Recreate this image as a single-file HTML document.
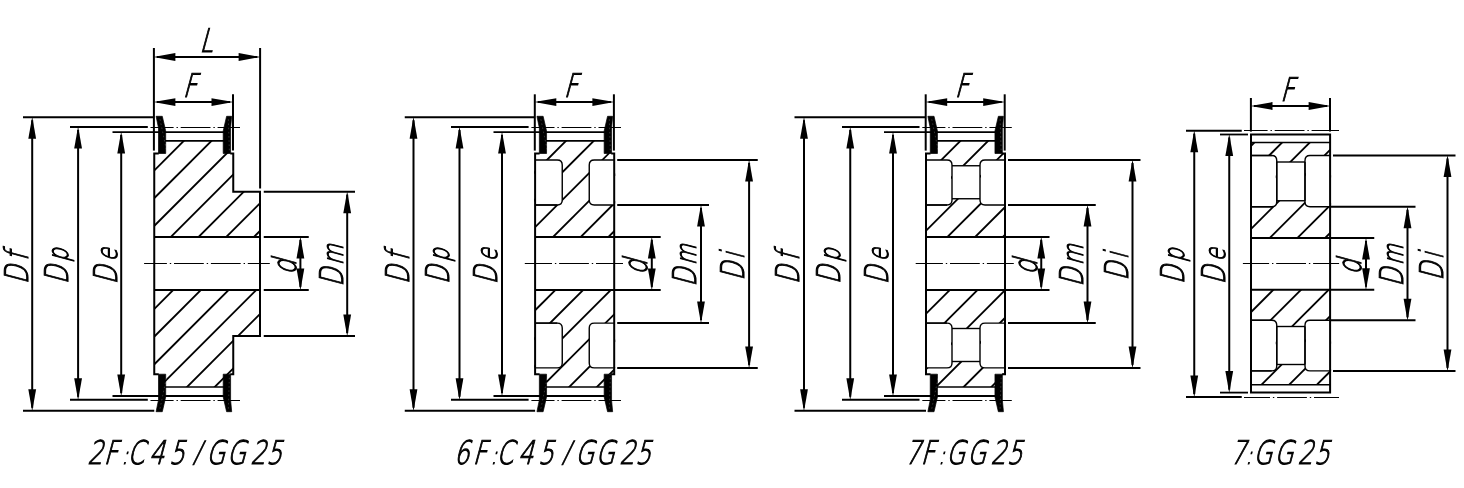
<!DOCTYPE html>
<html lang="en"><head><meta charset="utf-8"><title>Pulley types</title>
<style>
html,body{margin:0;padding:0;background:#fff}
body{width:1464px;height:488px;overflow:hidden}
svg{display:block;filter:grayscale(1)}
.a{fill:#000;stroke:#000}
polygon.a{stroke:none}
.t{font-family:"DejaVu Sans Light","DejaVu Sans","Liberation Sans",sans-serif;font-weight:200;fill:#000;stroke:#000;stroke-width:1.1px}
</style></head><body>
<svg width="1464" height="488" viewBox="0 0 1464 488" stroke="#000" fill="none">
<defs><clipPath id="c1"><path d="M154.25,153.5 L159.25,153.5 L159.25,140.85 L228.25,140.85 L228.25,153.5 L233.25,153.5 L233.25,191.65 L260.0,191.65 L260.0,236.9 L154.25,236.9 Z M154.25,374.2 L159.25,374.2 L159.25,387.0 L228.25,387.0 L228.25,374.2 L233.25,374.2 L233.25,336.0 L260.0,336.0 L260.0,289.9 L154.25,289.9 Z " clip-rule="evenodd"/></clipPath><clipPath id="c2"><path d="M535.1,153.5 L540.1,153.5 L540.1,140.85 L609.2,140.85 L609.2,153.5 L614.2,153.5 L614.2,236.9 L535.1,236.9 Z M534.10,160.00 L557.25,160.00 Q562.25,160.00 562.25,165.00 L562.25,200.00 Q562.25,205.00 557.25,205.00 L534.10,205.00 Q534.10,205.00 534.10,205.00 L534.10,160.00 Q534.10,160.00 534.10,160.00 Z M594.25,160.00 L615.20,160.00 Q615.20,160.00 615.20,160.00 L615.20,205.00 Q615.20,205.00 615.20,205.00 L594.25,205.00 Q589.25,205.00 589.25,200.00 L589.25,165.00 Q589.25,160.00 594.25,160.00 Z M535.1,374.2 L540.1,374.2 L540.1,387.0 L609.2,387.0 L609.2,374.2 L614.2,374.2 L614.2,289.9 L535.1,289.9 Z M534.10,323.10 L557.25,323.10 Q562.25,323.10 562.25,328.10 L562.25,362.90 Q562.25,367.90 557.25,367.90 L534.10,367.90 Q534.10,367.90 534.10,367.90 L534.10,323.10 Q534.10,323.10 534.10,323.10 Z M594.25,323.10 L615.20,323.10 Q615.20,323.10 615.20,323.10 L615.20,367.90 Q615.20,367.90 615.20,367.90 L594.25,367.90 Q589.25,367.90 589.25,362.90 L589.25,328.10 Q589.25,323.10 594.25,323.10 Z " clip-rule="evenodd"/></clipPath><clipPath id="c3"><path d="M926.0,153.5 L931.0,153.5 L931.0,140.85 L1000.0,140.85 L1000.0,153.5 L1005.0,153.5 L1005.0,236.9 L926.0,236.9 Z M925.00,160.00 L947.00,160.00 Q952.00,160.00 952.00,165.00 L952.00,200.00 Q952.00,205.00 947.00,205.00 L925.00,205.00 Q925.00,205.00 925.00,205.00 L925.00,160.00 Q925.00,160.00 925.00,160.00 Z M985.00,160.00 L1006.00,160.00 Q1006.00,160.00 1006.00,160.00 L1006.00,205.00 Q1006.00,205.00 1006.00,205.00 L985.00,205.00 Q980.00,205.00 980.00,200.00 L980.00,165.00 Q980.00,160.00 985.00,160.00 Z M951.0,165.75 L981.0,165.75 L981.0,198.75 L951.0,198.75 Z M926.0,374.2 L931.0,374.2 L931.0,387.0 L1000.0,387.0 L1000.0,374.2 L1005.0,374.2 L1005.0,289.9 L926.0,289.9 Z M925.00,323.10 L947.00,323.10 Q952.00,323.10 952.00,328.10 L952.00,362.90 Q952.00,367.90 947.00,367.90 L925.00,367.90 Q925.00,367.90 925.00,367.90 L925.00,323.10 Q925.00,323.10 925.00,323.10 Z M985.00,323.10 L1006.00,323.10 Q1006.00,323.10 1006.00,323.10 L1006.00,367.90 Q1006.00,367.90 1006.00,367.90 L985.00,367.90 Q980.00,367.90 980.00,362.90 L980.00,328.10 Q980.00,323.10 985.00,323.10 Z M951.0,328.5 L981.0,328.5 L981.0,361.5 L951.0,361.5 Z " clip-rule="evenodd"/></clipPath><clipPath id="c4"><path d="M1251.0,142.5 L1330.1,142.5 L1330.1,238.0 L1251.0,238.0 Z M1250.00,155.50 L1271.75,155.50 Q1276.75,155.50 1276.75,160.50 L1276.75,201.80 Q1276.75,206.80 1271.75,206.80 L1250.00,206.80 Q1250.00,206.80 1250.00,206.80 L1250.00,155.50 Q1250.00,155.50 1250.00,155.50 Z M1310.00,155.50 L1331.10,155.50 Q1331.10,155.50 1331.10,155.50 L1331.10,206.80 Q1331.10,206.80 1331.10,206.80 L1310.00,206.80 Q1305.00,206.80 1305.00,201.80 L1305.00,160.50 Q1305.00,155.50 1310.00,155.50 Z M1275.75,162.0 L1306.0,162.0 L1306.0,200.75 L1275.75,200.75 Z M1251.0,384.75 L1330.1,384.75 L1330.1,289.75 L1251.0,289.75 Z M1250.00,320.30 L1271.75,320.30 Q1276.75,320.30 1276.75,325.30 L1276.75,365.90 Q1276.75,370.90 1271.75,370.90 L1250.00,370.90 Q1250.00,370.90 1250.00,370.90 L1250.00,320.30 Q1250.00,320.30 1250.00,320.30 Z M1310.00,320.30 L1331.10,320.30 Q1331.10,320.30 1331.10,320.30 L1331.10,370.90 Q1331.10,370.90 1331.10,370.90 L1310.00,370.90 Q1305.00,370.90 1305.00,365.90 L1305.00,325.30 Q1305.00,320.30 1310.00,320.30 Z M1275.75,326.5 L1306.0,326.5 L1306.0,364.5 L1275.75,364.5 Z " clip-rule="evenodd"/></clipPath></defs>
<g clip-path="url(#c1)" stroke-width="1.85">
<line x1="152.25" y1="89.35" x2="262.00" y2="-20.40"/>
<line x1="152.25" y1="117.05" x2="262.00" y2="7.30"/>
<line x1="152.25" y1="144.75" x2="262.00" y2="35.00"/>
<line x1="152.25" y1="172.45" x2="262.00" y2="62.70"/>
<line x1="152.25" y1="200.15" x2="262.00" y2="90.40"/>
<line x1="152.25" y1="227.85" x2="262.00" y2="118.10"/>
<line x1="152.25" y1="255.55" x2="262.00" y2="145.80"/>
<line x1="152.25" y1="283.25" x2="262.00" y2="173.50"/>
<line x1="152.25" y1="310.95" x2="262.00" y2="201.20"/>
<line x1="152.25" y1="338.65" x2="262.00" y2="228.90"/>
<line x1="152.25" y1="366.35" x2="262.00" y2="256.60"/>
<line x1="152.25" y1="394.05" x2="262.00" y2="284.30"/>
<line x1="152.25" y1="421.75" x2="262.00" y2="312.00"/>
<line x1="152.25" y1="449.45" x2="262.00" y2="339.70"/>
<line x1="152.25" y1="477.15" x2="262.00" y2="367.40"/>
<line x1="152.25" y1="504.85" x2="262.00" y2="395.10"/>
<line x1="152.25" y1="532.55" x2="262.00" y2="422.80"/>
<line x1="152.25" y1="560.25" x2="262.00" y2="450.50"/>
</g>
<path d="M158.75,153.5 L154.25,153.5 L154.25,374.2 L158.75,374.2 M230.25,153.5 L233.25,153.5 L233.25,191.65 L260.0,191.65 L260.0,336.0 L233.25,336.0 L233.25,374.2 L230.25,374.2" stroke-width="2.0"/>
<line x1="154.25" y1="236.90" x2="260.00" y2="236.90" stroke-width="2.0" />
<line x1="164.25" y1="140.85" x2="225.25" y2="140.85" stroke-width="1.7" />
<line x1="112.50" y1="132.05" x2="225.25" y2="132.05" stroke-width="1.8" />
<line x1="70.00" y1="127.00" x2="147.80" y2="127.00" stroke-width="2.0" />
<line x1="150.50" y1="127.50" x2="240.00" y2="127.50" stroke-width="1.0" stroke-dasharray="29.8 2.9 1.4 2.8" stroke-dashoffset="6.7"/>
<line x1="23.00" y1="117.20" x2="154.25" y2="117.20" stroke-width="2.0" />
<path class="a" d="M158.50,153.50 L158.50,127.98 L156.10,116.30 L162.30,116.30 L165.70,130.96 L165.70,153.50 Z" stroke-width="0.7" stroke-linejoin="round"/>
<line x1="160.00" y1="119.28" x2="166.70" y2="151.27" stroke="#fff" stroke-width="0.5" stroke-dasharray="1.6 2.6" opacity="0.4"/>
<path class="a" d="M230.60,153.50 L230.60,127.98 L231.70,116.30 L226.60,116.30 L223.20,130.96 L223.20,153.50 Z" stroke-width="0.7" stroke-linejoin="round"/>
<line x1="228.35" y1="119.28" x2="229.40" y2="151.27" stroke="#fff" stroke-width="0.5" stroke-dasharray="1.6 2.6" opacity="0.4"/>
<line x1="263.75" y1="191.65" x2="355.00" y2="191.65" stroke-width="2.0" />
<line x1="263.75" y1="236.90" x2="308.75" y2="236.90" stroke-width="2.0" />
<line x1="154.25" y1="289.90" x2="260.00" y2="289.90" stroke-width="2.0" />
<line x1="164.25" y1="387.00" x2="225.25" y2="387.00" stroke-width="1.7" />
<line x1="112.50" y1="396.00" x2="225.25" y2="396.00" stroke-width="1.8" />
<line x1="70.00" y1="399.80" x2="147.80" y2="399.80" stroke-width="2.0" />
<line x1="150.50" y1="400.50" x2="240.00" y2="400.50" stroke-width="1.0" stroke-dasharray="29.8 2.9 1.4 2.8" stroke-dashoffset="6.7"/>
<line x1="23.00" y1="410.80" x2="154.25" y2="410.80" stroke-width="2.0" />
<path class="a" d="M158.50,374.20 L158.50,399.93 L156.10,411.70 L162.30,411.70 L165.70,396.93 L165.70,374.20 Z" stroke-width="0.7" stroke-linejoin="round"/>
<line x1="160.00" y1="408.70" x2="166.70" y2="376.45" stroke="#fff" stroke-width="0.5" stroke-dasharray="1.6 2.6" opacity="0.4"/>
<path class="a" d="M230.60,374.20 L230.60,399.93 L231.70,411.70 L226.60,411.70 L223.20,396.93 L223.20,374.20 Z" stroke-width="0.7" stroke-linejoin="round"/>
<line x1="228.35" y1="408.70" x2="229.40" y2="376.45" stroke="#fff" stroke-width="0.5" stroke-dasharray="1.6 2.6" opacity="0.4"/>
<line x1="263.75" y1="336.00" x2="355.00" y2="336.00" stroke-width="2.0" />
<line x1="263.75" y1="289.90" x2="308.75" y2="289.90" stroke-width="2.0" />
<line x1="144.10" y1="263.50" x2="269.80" y2="263.50" stroke-width="1.0" stroke-dasharray="29.8 2.9 1.4 2.8" stroke-dashoffset="7.0"/>
<line x1="153.90" y1="48.00" x2="153.90" y2="150.60" stroke-width="2.0" />
<line x1="233.00" y1="94.30" x2="233.00" y2="150.60" stroke-width="2.0" />
<line x1="260.10" y1="48.00" x2="260.10" y2="188.50" stroke-width="2.0" />
<line x1="156.90" y1="57.00" x2="257.10" y2="57.00" stroke-width="2.0" />
<polygon class="a" points="153.40,57.00 175.40,53.10 175.40,60.90"/>
<polygon class="a" points="260.60,57.00 238.60,60.90 238.60,53.10"/>
<line x1="156.90" y1="102.10" x2="230.00" y2="102.10" stroke-width="2.0" />
<polygon class="a" points="153.40,102.10 175.40,98.20 175.40,106.00"/>
<polygon class="a" points="233.50,102.10 211.50,106.00 211.50,98.20"/>
<line x1="32.20" y1="120.20" x2="32.20" y2="407.80" stroke-width="2.0" />
<polygon class="a" points="32.20,116.70 36.10,138.70 28.30,138.70"/>
<polygon class="a" points="32.20,411.30 28.30,389.30 36.10,389.30"/>
<line x1="78.10" y1="130.00" x2="78.10" y2="396.80" stroke-width="2.0" />
<polygon class="a" points="78.10,126.50 82.00,148.50 74.20,148.50"/>
<polygon class="a" points="78.10,400.30 74.20,378.30 82.00,378.30"/>
<line x1="121.20" y1="135.05" x2="121.20" y2="393.00" stroke-width="2.0" />
<polygon class="a" points="121.20,131.55 125.10,153.55 117.30,153.55"/>
<polygon class="a" points="121.20,396.50 117.30,374.50 125.10,374.50"/>
<line x1="300.40" y1="239.90" x2="300.40" y2="286.90" stroke-width="2.0" />
<polygon class="a" points="300.40,236.40 304.30,258.40 296.50,258.40"/>
<polygon class="a" points="300.40,290.40 296.50,268.40 304.30,268.40"/>
<line x1="347.20" y1="194.65" x2="347.20" y2="333.00" stroke-width="2.0" />
<polygon class="a" points="347.20,191.15 351.10,213.15 343.30,213.15"/>
<polygon class="a" points="347.20,336.50 343.30,314.50 351.10,314.50"/>
<text class="t" transform="translate(0,51.70) skewX(-15) scale(0.74,1)" font-size="32.6" x="269.27" y="0">L</text>
<text class="t" transform="translate(0,97.30) skewX(-15) scale(0.74,1)" font-size="32.6" x="246.77" y="0">F</text>
<text class="t" transform="translate(27.50,300.00) rotate(-90) skewX(-15) scale(0.74,1)" font-size="32.6" x="20.93 52.42" y="0">Df</text>
<text class="t" transform="translate(67.65,300.00) rotate(-90) skewX(-15) scale(0.74,1)" font-size="32.6" x="20.86 51.34" y="0">D<tspan font-size="28.36">p</tspan></text>
<text class="t" transform="translate(116.50,300.00) rotate(-90) skewX(-15) scale(0.74,1)" font-size="32.6" x="20.73 52.16" y="0">D<tspan font-size="28.36">e</tspan></text>
<text class="t" transform="translate(295.70,300.00) rotate(-90) skewX(-15) scale(0.74,1)" font-size="32.6" x="33.80" y="0">d</text>
<text class="t" transform="translate(342.50,300.00) rotate(-90) skewX(-15) scale(0.74,1)" font-size="32.6" x="17.48 46.90" y="0">D<tspan font-size="28.36">m</tspan></text>
<text class="t" transform="translate(0,464.40) skewX(-15) scale(0.74,1)" font-size="32.6" x="117.99 139.88 164.35 171.88 201.12 228.45 260.28 278.28 306.26 338.13 359.87" y="0 0 0 0 0 0 -2.7 0 0 0 0">2F<tspan font-size="24.78">:</tspan>C45<tspan font-size="29.01">/</tspan>GG25</text>
<g clip-path="url(#c2)" stroke-width="1.85">
<line x1="533.10" y1="90.70" x2="616.20" y2="7.60"/>
<line x1="533.10" y1="118.40" x2="616.20" y2="35.30"/>
<line x1="533.10" y1="146.10" x2="616.20" y2="63.00"/>
<line x1="533.10" y1="173.80" x2="616.20" y2="90.70"/>
<line x1="533.10" y1="201.50" x2="616.20" y2="118.40"/>
<line x1="533.10" y1="229.20" x2="616.20" y2="146.10"/>
<line x1="533.10" y1="256.90" x2="616.20" y2="173.80"/>
<line x1="533.10" y1="284.60" x2="616.20" y2="201.50"/>
<line x1="533.10" y1="312.30" x2="616.20" y2="229.20"/>
<line x1="533.10" y1="340.00" x2="616.20" y2="256.90"/>
<line x1="533.10" y1="367.70" x2="616.20" y2="284.60"/>
<line x1="533.10" y1="395.40" x2="616.20" y2="312.30"/>
<line x1="533.10" y1="423.10" x2="616.20" y2="340.00"/>
<line x1="533.10" y1="450.80" x2="616.20" y2="367.70"/>
<line x1="533.10" y1="478.50" x2="616.20" y2="395.40"/>
<line x1="533.10" y1="506.20" x2="616.20" y2="423.10"/>
<line x1="533.10" y1="533.90" x2="616.20" y2="450.80"/>
</g>
<path d="M539.6,153.5 L535.1,153.5 L535.1,374.2 L539.6,374.2 M611.2,153.5 L614.2,153.5 L614.2,374.2 L611.2,374.2" stroke-width="2.0"/>
<line x1="535.10" y1="236.90" x2="614.20" y2="236.90" stroke-width="2.0" />
<path d="M535.1,160.0 L557.25,160.0 Q562.25,160.0 562.25,165.0 L562.25,200.0 Q562.25,205.0 557.25,205.0 L535.1,205.0" stroke-width="1.4"/>
<path d="M614.2,160.0 L594.25,160.0 Q589.25,160.0 589.25,165.0 L589.25,200.0 Q589.25,205.0 594.25,205.0 L614.2,205.0" stroke-width="1.4"/>
<line x1="535.10" y1="205.00" x2="557.25" y2="205.00" stroke-width="1.4" />
<line x1="545.10" y1="140.85" x2="606.20" y2="140.85" stroke-width="1.7" />
<line x1="493.50" y1="132.05" x2="606.20" y2="132.05" stroke-width="1.8" />
<line x1="451.00" y1="127.00" x2="528.60" y2="127.00" stroke-width="2.0" />
<line x1="531.40" y1="127.50" x2="621.00" y2="127.50" stroke-width="1.0" stroke-dasharray="29.8 2.9 1.4 2.8" stroke-dashoffset="6.7"/>
<line x1="404.75" y1="117.20" x2="535.10" y2="117.20" stroke-width="2.0" />
<path class="a" d="M539.35,153.50 L539.35,127.98 L536.95,116.30 L543.15,116.30 L546.55,130.96 L546.55,153.50 Z" stroke-width="0.7" stroke-linejoin="round"/>
<line x1="540.85" y1="119.28" x2="547.55" y2="151.27" stroke="#fff" stroke-width="0.5" stroke-dasharray="1.6 2.6" opacity="0.4"/>
<path class="a" d="M611.55,153.50 L611.55,127.98 L612.65,116.30 L607.55,116.30 L604.15,130.96 L604.15,153.50 Z" stroke-width="0.7" stroke-linejoin="round"/>
<line x1="609.30" y1="119.28" x2="610.35" y2="151.27" stroke="#fff" stroke-width="0.5" stroke-dasharray="1.6 2.6" opacity="0.4"/>
<line x1="617.20" y1="160.00" x2="757.75" y2="160.00" stroke-width="2.0" />
<line x1="617.20" y1="205.00" x2="709.00" y2="205.00" stroke-width="2.0" />
<line x1="614.20" y1="236.90" x2="660.70" y2="236.90" stroke-width="2.0" />
<line x1="535.10" y1="289.90" x2="614.20" y2="289.90" stroke-width="2.0" />
<path d="M535.1,323.1 L557.25,323.1 Q562.25,323.1 562.25,328.1 L562.25,362.9 Q562.25,367.9 557.25,367.9 L535.1,367.9" stroke-width="1.4"/>
<path d="M614.2,323.1 L594.25,323.1 Q589.25,323.1 589.25,328.1 L589.25,362.9 Q589.25,367.9 594.25,367.9 L614.2,367.9" stroke-width="1.4"/>
<line x1="535.10" y1="323.10" x2="557.25" y2="323.10" stroke-width="1.4" />
<line x1="545.10" y1="387.00" x2="606.20" y2="387.00" stroke-width="1.7" />
<line x1="493.50" y1="396.00" x2="606.20" y2="396.00" stroke-width="1.8" />
<line x1="451.00" y1="399.80" x2="528.60" y2="399.80" stroke-width="2.0" />
<line x1="531.40" y1="400.50" x2="621.00" y2="400.50" stroke-width="1.0" stroke-dasharray="29.8 2.9 1.4 2.8" stroke-dashoffset="6.7"/>
<line x1="404.75" y1="410.80" x2="535.10" y2="410.80" stroke-width="2.0" />
<path class="a" d="M539.35,374.20 L539.35,399.93 L536.95,411.70 L543.15,411.70 L546.55,396.93 L546.55,374.20 Z" stroke-width="0.7" stroke-linejoin="round"/>
<line x1="540.85" y1="408.70" x2="547.55" y2="376.45" stroke="#fff" stroke-width="0.5" stroke-dasharray="1.6 2.6" opacity="0.4"/>
<path class="a" d="M611.55,374.20 L611.55,399.93 L612.65,411.70 L607.55,411.70 L604.15,396.93 L604.15,374.20 Z" stroke-width="0.7" stroke-linejoin="round"/>
<line x1="609.30" y1="408.70" x2="610.35" y2="376.45" stroke="#fff" stroke-width="0.5" stroke-dasharray="1.6 2.6" opacity="0.4"/>
<line x1="617.20" y1="367.90" x2="757.75" y2="367.90" stroke-width="2.0" />
<line x1="617.20" y1="323.10" x2="709.00" y2="323.10" stroke-width="2.0" />
<line x1="614.20" y1="289.90" x2="660.70" y2="289.90" stroke-width="2.0" />
<line x1="524.80" y1="263.50" x2="623.00" y2="263.50" stroke-width="1.0" stroke-dasharray="29.8 2.9 1.4 2.8" stroke-dashoffset="2.6"/>
<line x1="534.80" y1="94.30" x2="534.80" y2="150.60" stroke-width="2.0" />
<line x1="613.90" y1="94.30" x2="613.90" y2="150.60" stroke-width="2.0" />
<line x1="537.80" y1="102.10" x2="610.90" y2="102.10" stroke-width="2.0" />
<polygon class="a" points="534.30,102.10 556.30,98.20 556.30,106.00"/>
<polygon class="a" points="614.40,102.10 592.40,106.00 592.40,98.20"/>
<line x1="413.50" y1="120.20" x2="413.50" y2="407.80" stroke-width="2.0" />
<polygon class="a" points="413.50,116.70 417.40,138.70 409.60,138.70"/>
<polygon class="a" points="413.50,411.30 409.60,389.30 417.40,389.30"/>
<line x1="459.50" y1="130.00" x2="459.50" y2="396.80" stroke-width="2.0" />
<polygon class="a" points="459.50,126.50 463.40,148.50 455.60,148.50"/>
<polygon class="a" points="459.50,400.30 455.60,378.30 463.40,378.30"/>
<line x1="502.00" y1="135.05" x2="502.00" y2="393.00" stroke-width="2.0" />
<polygon class="a" points="502.00,131.55 505.90,153.55 498.10,153.55"/>
<polygon class="a" points="502.00,396.50 498.10,374.50 505.90,374.50"/>
<line x1="651.80" y1="239.90" x2="651.80" y2="286.90" stroke-width="2.0" />
<polygon class="a" points="651.80,236.40 655.70,258.40 647.90,258.40"/>
<polygon class="a" points="651.80,290.40 647.90,268.40 655.70,268.40"/>
<line x1="701.00" y1="208.00" x2="701.00" y2="320.10" stroke-width="2.0" />
<polygon class="a" points="701.00,204.50 704.90,226.50 697.10,226.50"/>
<polygon class="a" points="701.00,323.60 697.10,301.60 704.90,301.60"/>
<line x1="749.10" y1="163.00" x2="749.10" y2="364.90" stroke-width="2.0" />
<polygon class="a" points="749.10,159.50 753.00,181.50 745.20,181.50"/>
<polygon class="a" points="749.10,368.40 745.20,346.40 753.00,346.40"/>
<text class="t" transform="translate(408.80,300.00) rotate(-90) skewX(-15) scale(0.74,1)" font-size="32.6" x="20.93 52.42" y="0">Df</text>
<text class="t" transform="translate(449.05,300.00) rotate(-90) skewX(-15) scale(0.74,1)" font-size="32.6" x="20.86 51.34" y="0">D<tspan font-size="28.36">p</tspan></text>
<text class="t" transform="translate(497.30,300.00) rotate(-90) skewX(-15) scale(0.74,1)" font-size="32.6" x="20.73 52.16" y="0">D<tspan font-size="28.36">e</tspan></text>
<text class="t" transform="translate(647.10,300.00) rotate(-90) skewX(-15) scale(0.74,1)" font-size="32.6" x="33.80" y="0">d</text>
<text class="t" transform="translate(696.30,300.00) rotate(-90) skewX(-15) scale(0.74,1)" font-size="32.6" x="17.48 46.90" y="0">D<tspan font-size="28.36">m</tspan></text>
<text class="t" transform="translate(744.40,300.00) rotate(-90) skewX(-15) scale(0.74,1)" font-size="32.6" x="25.73 54.57" y="0">Di</text>
<text class="t" transform="translate(0,97.30) skewX(-15) scale(0.74,1)" font-size="32.6" x="761.64" y="0">F</text>
<text class="t" transform="translate(0,464.40) skewX(-15) scale(0.74,1)" font-size="32.6" x="613.18 638.53 663.00 670.52 699.77 727.10 758.93 776.93 804.90 836.78 858.52" y="0 0 0 0 0 0 -2.7 0 0 0 0">6F<tspan font-size="24.78">:</tspan>C45<tspan font-size="29.01">/</tspan>GG25</text>
<g clip-path="url(#c3)" stroke-width="1.85">
<line x1="924.00" y1="94.20" x2="1007.00" y2="11.20"/>
<line x1="924.00" y1="121.90" x2="1007.00" y2="38.90"/>
<line x1="924.00" y1="149.60" x2="1007.00" y2="66.60"/>
<line x1="924.00" y1="177.30" x2="1007.00" y2="94.30"/>
<line x1="924.00" y1="205.00" x2="1007.00" y2="122.00"/>
<line x1="924.00" y1="232.70" x2="1007.00" y2="149.70"/>
<line x1="924.00" y1="260.40" x2="1007.00" y2="177.40"/>
<line x1="924.00" y1="288.10" x2="1007.00" y2="205.10"/>
<line x1="924.00" y1="315.80" x2="1007.00" y2="232.80"/>
<line x1="924.00" y1="343.50" x2="1007.00" y2="260.50"/>
<line x1="924.00" y1="371.20" x2="1007.00" y2="288.20"/>
<line x1="924.00" y1="398.90" x2="1007.00" y2="315.90"/>
<line x1="924.00" y1="426.60" x2="1007.00" y2="343.60"/>
<line x1="924.00" y1="454.30" x2="1007.00" y2="371.30"/>
<line x1="924.00" y1="482.00" x2="1007.00" y2="399.00"/>
<line x1="924.00" y1="509.70" x2="1007.00" y2="426.70"/>
</g>
<path d="M930.5,153.5 L926.0,153.5 L926.0,374.2 L930.5,374.2 M1002.0,153.5 L1005.0,153.5 L1005.0,374.2 L1002.0,374.2" stroke-width="2.0"/>
<line x1="926.00" y1="236.90" x2="1005.00" y2="236.90" stroke-width="2.0" />
<path d="M926.0,160.0 L947.0,160.0 Q952.0,160.0 952.0,165.0 L952.0,200.0 Q952.0,205.0 947.0,205.0 L926.0,205.0" stroke-width="1.4"/>
<path d="M1005.0,160.0 L985.0,160.0 Q980.0,160.0 980.0,165.0 L980.0,200.0 Q980.0,205.0 985.0,205.0 L1005.0,205.0" stroke-width="1.4"/>
<line x1="926.00" y1="205.00" x2="947.00" y2="205.00" stroke-width="1.4" />
<line x1="952.00" y1="165.75" x2="980.00" y2="165.75" stroke-width="1.4" />
<line x1="952.00" y1="198.75" x2="980.00" y2="198.75" stroke-width="1.4" />
<line x1="936.00" y1="140.85" x2="997.00" y2="140.85" stroke-width="1.7" />
<line x1="884.00" y1="132.05" x2="997.00" y2="132.05" stroke-width="1.8" />
<line x1="842.00" y1="127.00" x2="919.50" y2="127.00" stroke-width="2.0" />
<line x1="922.30" y1="127.50" x2="1011.80" y2="127.50" stroke-width="1.0" stroke-dasharray="29.8 2.9 1.4 2.8" stroke-dashoffset="6.7"/>
<line x1="794.50" y1="117.20" x2="926.00" y2="117.20" stroke-width="2.0" />
<path class="a" d="M930.25,153.50 L930.25,127.98 L927.85,116.30 L934.05,116.30 L937.45,130.96 L937.45,153.50 Z" stroke-width="0.7" stroke-linejoin="round"/>
<line x1="931.75" y1="119.28" x2="938.45" y2="151.27" stroke="#fff" stroke-width="0.5" stroke-dasharray="1.6 2.6" opacity="0.4"/>
<path class="a" d="M1002.35,153.50 L1002.35,127.98 L1003.45,116.30 L998.35,116.30 L994.95,130.96 L994.95,153.50 Z" stroke-width="0.7" stroke-linejoin="round"/>
<line x1="1000.10" y1="119.28" x2="1001.15" y2="151.27" stroke="#fff" stroke-width="0.5" stroke-dasharray="1.6 2.6" opacity="0.4"/>
<line x1="1008.00" y1="160.00" x2="1140.50" y2="160.00" stroke-width="2.0" />
<line x1="1008.00" y1="205.00" x2="1095.75" y2="205.00" stroke-width="2.0" />
<line x1="1005.00" y1="236.90" x2="1049.50" y2="236.90" stroke-width="2.0" />
<line x1="926.00" y1="289.90" x2="1005.00" y2="289.90" stroke-width="2.0" />
<path d="M926.0,323.1 L947.0,323.1 Q952.0,323.1 952.0,328.1 L952.0,362.9 Q952.0,367.9 947.0,367.9 L926.0,367.9" stroke-width="1.4"/>
<path d="M1005.0,323.1 L985.0,323.1 Q980.0,323.1 980.0,328.1 L980.0,362.9 Q980.0,367.9 985.0,367.9 L1005.0,367.9" stroke-width="1.4"/>
<line x1="926.00" y1="323.10" x2="947.00" y2="323.10" stroke-width="1.4" />
<line x1="952.00" y1="361.50" x2="980.00" y2="361.50" stroke-width="1.4" />
<line x1="952.00" y1="328.50" x2="980.00" y2="328.50" stroke-width="1.4" />
<line x1="936.00" y1="387.00" x2="997.00" y2="387.00" stroke-width="1.7" />
<line x1="884.00" y1="396.00" x2="997.00" y2="396.00" stroke-width="1.8" />
<line x1="842.00" y1="399.80" x2="919.50" y2="399.80" stroke-width="2.0" />
<line x1="922.30" y1="400.50" x2="1011.80" y2="400.50" stroke-width="1.0" stroke-dasharray="29.8 2.9 1.4 2.8" stroke-dashoffset="6.7"/>
<line x1="794.50" y1="410.80" x2="926.00" y2="410.80" stroke-width="2.0" />
<path class="a" d="M930.25,374.20 L930.25,399.93 L927.85,411.70 L934.05,411.70 L937.45,396.93 L937.45,374.20 Z" stroke-width="0.7" stroke-linejoin="round"/>
<line x1="931.75" y1="408.70" x2="938.45" y2="376.45" stroke="#fff" stroke-width="0.5" stroke-dasharray="1.6 2.6" opacity="0.4"/>
<path class="a" d="M1002.35,374.20 L1002.35,399.93 L1003.45,411.70 L998.35,411.70 L994.95,396.93 L994.95,374.20 Z" stroke-width="0.7" stroke-linejoin="round"/>
<line x1="1000.10" y1="408.70" x2="1001.15" y2="376.45" stroke="#fff" stroke-width="0.5" stroke-dasharray="1.6 2.6" opacity="0.4"/>
<line x1="1008.00" y1="367.90" x2="1140.50" y2="367.90" stroke-width="2.0" />
<line x1="1008.00" y1="323.10" x2="1095.75" y2="323.10" stroke-width="2.0" />
<line x1="1005.00" y1="289.90" x2="1049.50" y2="289.90" stroke-width="2.0" />
<line x1="915.70" y1="263.50" x2="1013.80" y2="263.50" stroke-width="1.0" stroke-dasharray="29.8 2.9 1.4 2.8" stroke-dashoffset="2.6"/>
<line x1="925.70" y1="94.30" x2="925.70" y2="150.60" stroke-width="2.0" />
<line x1="1004.70" y1="94.30" x2="1004.70" y2="150.60" stroke-width="2.0" />
<line x1="928.70" y1="102.10" x2="1001.70" y2="102.10" stroke-width="2.0" />
<polygon class="a" points="925.20,102.10 947.20,98.20 947.20,106.00"/>
<polygon class="a" points="1005.20,102.10 983.20,106.00 983.20,98.20"/>
<line x1="804.00" y1="120.20" x2="804.00" y2="407.80" stroke-width="2.0" />
<polygon class="a" points="804.00,116.70 807.90,138.70 800.10,138.70"/>
<polygon class="a" points="804.00,411.30 800.10,389.30 807.90,389.30"/>
<line x1="850.25" y1="130.00" x2="850.25" y2="396.80" stroke-width="2.0" />
<polygon class="a" points="850.25,126.50 854.15,148.50 846.35,148.50"/>
<polygon class="a" points="850.25,400.30 846.35,378.30 854.15,378.30"/>
<line x1="893.00" y1="135.05" x2="893.00" y2="393.00" stroke-width="2.0" />
<polygon class="a" points="893.00,131.55 896.90,153.55 889.10,153.55"/>
<polygon class="a" points="893.00,396.50 889.10,374.50 896.90,374.50"/>
<line x1="1041.25" y1="239.90" x2="1041.25" y2="286.90" stroke-width="2.0" />
<polygon class="a" points="1041.25,236.40 1045.15,258.40 1037.35,258.40"/>
<polygon class="a" points="1041.25,290.40 1037.35,268.40 1045.15,268.40"/>
<line x1="1087.50" y1="208.00" x2="1087.50" y2="320.10" stroke-width="2.0" />
<polygon class="a" points="1087.50,204.50 1091.40,226.50 1083.60,226.50"/>
<polygon class="a" points="1087.50,323.60 1083.60,301.60 1091.40,301.60"/>
<line x1="1132.50" y1="163.00" x2="1132.50" y2="364.90" stroke-width="2.0" />
<polygon class="a" points="1132.50,159.50 1136.40,181.50 1128.60,181.50"/>
<polygon class="a" points="1132.50,368.40 1128.60,346.40 1136.40,346.40"/>
<text class="t" transform="translate(799.30,300.00) rotate(-90) skewX(-15) scale(0.74,1)" font-size="32.6" x="20.93 52.42" y="0">Df</text>
<text class="t" transform="translate(839.80,300.00) rotate(-90) skewX(-15) scale(0.74,1)" font-size="32.6" x="20.86 51.34" y="0">D<tspan font-size="28.36">p</tspan></text>
<text class="t" transform="translate(888.30,300.00) rotate(-90) skewX(-15) scale(0.74,1)" font-size="32.6" x="20.73 52.16" y="0">D<tspan font-size="28.36">e</tspan></text>
<text class="t" transform="translate(1036.55,300.00) rotate(-90) skewX(-15) scale(0.74,1)" font-size="32.6" x="33.80" y="0">d</text>
<text class="t" transform="translate(1082.80,300.00) rotate(-90) skewX(-15) scale(0.74,1)" font-size="32.6" x="17.48 46.90" y="0">D<tspan font-size="28.36">m</tspan></text>
<text class="t" transform="translate(1127.80,300.00) rotate(-90) skewX(-15) scale(0.74,1)" font-size="32.6" x="25.73 54.57" y="0">Di</text>
<text class="t" transform="translate(0,97.30) skewX(-15) scale(0.74,1)" font-size="32.6" x="1290.02" y="0">F</text>
<text class="t" transform="translate(0,464.40) skewX(-15) scale(0.74,1)" font-size="32.6" x="1222.78 1244.00 1267.93 1278.48 1306.73 1338.40 1360.41" y="0">7F<tspan font-size="24.78">:</tspan>GG25</text>
<g clip-path="url(#c4)" stroke-width="1.85">
<line x1="1249.00" y1="92.50" x2="1332.10" y2="9.40"/>
<line x1="1249.00" y1="120.20" x2="1332.10" y2="37.10"/>
<line x1="1249.00" y1="147.90" x2="1332.10" y2="64.80"/>
<line x1="1249.00" y1="175.60" x2="1332.10" y2="92.50"/>
<line x1="1249.00" y1="203.30" x2="1332.10" y2="120.20"/>
<line x1="1249.00" y1="231.00" x2="1332.10" y2="147.90"/>
<line x1="1249.00" y1="258.70" x2="1332.10" y2="175.60"/>
<line x1="1249.00" y1="286.40" x2="1332.10" y2="203.30"/>
<line x1="1249.00" y1="314.10" x2="1332.10" y2="231.00"/>
<line x1="1249.00" y1="341.80" x2="1332.10" y2="258.70"/>
<line x1="1249.00" y1="369.50" x2="1332.10" y2="286.40"/>
<line x1="1249.00" y1="397.20" x2="1332.10" y2="314.10"/>
<line x1="1249.00" y1="424.90" x2="1332.10" y2="341.80"/>
<line x1="1249.00" y1="452.60" x2="1332.10" y2="369.50"/>
<line x1="1249.00" y1="480.30" x2="1332.10" y2="397.20"/>
<line x1="1249.00" y1="508.00" x2="1332.10" y2="424.90"/>
<line x1="1249.00" y1="535.70" x2="1332.10" y2="452.60"/>
</g>
<path d="M1251.0,134.5 L1330.1,134.5 L1330.1,392.6 L1251.0,392.6 Z" stroke-width="2.0"/>
<line x1="1251.00" y1="238.00" x2="1330.10" y2="238.00" stroke-width="2.0" />
<path d="M1251.0,155.5 L1271.75,155.5 Q1276.75,155.5 1276.75,160.5 L1276.75,201.8 Q1276.75,206.8 1271.75,206.8 L1251.0,206.8" stroke-width="1.4"/>
<path d="M1330.1,155.5 L1310.0,155.5 Q1305.0,155.5 1305.0,160.5 L1305.0,201.8 Q1305.0,206.8 1310.0,206.8 L1330.1,206.8" stroke-width="1.4"/>
<line x1="1251.00" y1="206.80" x2="1271.75" y2="206.80" stroke-width="1.4" />
<line x1="1251.00" y1="155.50" x2="1271.75" y2="155.50" stroke-width="1.4" />
<line x1="1276.75" y1="162.00" x2="1305.00" y2="162.00" stroke-width="1.4" />
<line x1="1276.75" y1="200.75" x2="1305.00" y2="200.75" stroke-width="1.4" />
<line x1="1276.75" y1="162.00" x2="1276.75" y2="200.75" stroke-width="1.4" />
<line x1="1305.00" y1="162.00" x2="1305.00" y2="200.75" stroke-width="1.4" />
<line x1="1251.00" y1="142.50" x2="1330.10" y2="142.50" stroke-width="1.7" />
<line x1="1220.00" y1="134.50" x2="1248.00" y2="134.50" stroke-width="1.8" />
<line x1="1186.00" y1="130.75" x2="1241.75" y2="130.75" stroke-width="2.0" />
<line x1="1244.00" y1="130.50" x2="1339.00" y2="130.50" stroke-width="1.0" stroke-dasharray="29.8 2.9 1.4 2.8" stroke-dashoffset="6.2"/>
<line x1="1333.00" y1="155.50" x2="1455.50" y2="155.50" stroke-width="2.0" />
<line x1="1330.10" y1="206.80" x2="1415.50" y2="206.80" stroke-width="2.0" />
<line x1="1330.10" y1="238.00" x2="1374.25" y2="238.00" stroke-width="2.0" />
<line x1="1251.00" y1="289.75" x2="1330.10" y2="289.75" stroke-width="2.0" />
<path d="M1251.0,320.3 L1271.75,320.3 Q1276.75,320.3 1276.75,325.3 L1276.75,365.9 Q1276.75,370.9 1271.75,370.9 L1251.0,370.9" stroke-width="1.4"/>
<path d="M1330.1,320.3 L1310.0,320.3 Q1305.0,320.3 1305.0,325.3 L1305.0,365.9 Q1305.0,370.9 1310.0,370.9 L1330.1,370.9" stroke-width="1.4"/>
<line x1="1251.00" y1="320.30" x2="1271.75" y2="320.30" stroke-width="1.4" />
<line x1="1251.00" y1="370.90" x2="1271.75" y2="370.90" stroke-width="1.4" />
<line x1="1276.75" y1="364.50" x2="1305.00" y2="364.50" stroke-width="1.4" />
<line x1="1276.75" y1="326.50" x2="1305.00" y2="326.50" stroke-width="1.4" />
<line x1="1276.75" y1="364.50" x2="1276.75" y2="326.50" stroke-width="1.4" />
<line x1="1305.00" y1="364.50" x2="1305.00" y2="326.50" stroke-width="1.4" />
<line x1="1251.00" y1="384.75" x2="1330.10" y2="384.75" stroke-width="1.7" />
<line x1="1220.00" y1="392.60" x2="1248.00" y2="392.60" stroke-width="1.8" />
<line x1="1186.00" y1="397.00" x2="1241.75" y2="397.00" stroke-width="2.0" />
<line x1="1244.00" y1="397.50" x2="1339.00" y2="397.50" stroke-width="1.0" stroke-dasharray="29.8 2.9 1.4 2.8" stroke-dashoffset="3.8"/>
<line x1="1333.00" y1="370.90" x2="1455.50" y2="370.90" stroke-width="2.0" />
<line x1="1330.10" y1="320.30" x2="1415.50" y2="320.30" stroke-width="2.0" />
<line x1="1330.10" y1="289.75" x2="1374.25" y2="289.75" stroke-width="2.0" />
<line x1="1242.90" y1="263.50" x2="1339.10" y2="263.50" stroke-width="1.0" stroke-dasharray="29.8 2.9 1.4 2.8" stroke-dashoffset="3.6"/>
<line x1="1250.90" y1="98.00" x2="1250.90" y2="131.60" stroke-width="2.0" />
<line x1="1330.00" y1="98.00" x2="1330.00" y2="131.60" stroke-width="2.0" />
<line x1="1254.00" y1="106.00" x2="1327.10" y2="106.00" stroke-width="2.0" />
<polygon class="a" points="1250.50,106.00 1272.50,102.10 1272.50,109.90"/>
<polygon class="a" points="1330.60,106.00 1308.60,109.90 1308.60,102.10"/>
<line x1="1194.25" y1="133.75" x2="1194.25" y2="394.00" stroke-width="2.0" />
<polygon class="a" points="1194.25,130.25 1198.15,152.25 1190.35,152.25"/>
<polygon class="a" points="1194.25,397.50 1190.35,375.50 1198.15,375.50"/>
<line x1="1229.25" y1="137.50" x2="1229.25" y2="389.60" stroke-width="2.0" />
<polygon class="a" points="1229.25,134.00 1233.15,156.00 1225.35,156.00"/>
<polygon class="a" points="1229.25,393.10 1225.35,371.10 1233.15,371.10"/>
<line x1="1366.00" y1="241.00" x2="1366.00" y2="286.75" stroke-width="2.0" />
<polygon class="a" points="1366.00,237.50 1369.90,259.50 1362.10,259.50"/>
<polygon class="a" points="1366.00,290.25 1362.10,268.25 1369.90,268.25"/>
<line x1="1407.50" y1="209.80" x2="1407.50" y2="317.30" stroke-width="2.0" />
<polygon class="a" points="1407.50,206.30 1411.40,228.30 1403.60,228.30"/>
<polygon class="a" points="1407.50,320.80 1403.60,298.80 1411.40,298.80"/>
<line x1="1447.50" y1="158.50" x2="1447.50" y2="367.90" stroke-width="2.0" />
<polygon class="a" points="1447.50,155.00 1451.40,177.00 1443.60,177.00"/>
<polygon class="a" points="1447.50,371.40 1443.60,349.40 1451.40,349.40"/>
<text class="t" transform="translate(1183.80,300.00) rotate(-90) skewX(-15) scale(0.74,1)" font-size="32.6" x="20.86 51.34" y="0">D<tspan font-size="28.36">p</tspan></text>
<text class="t" transform="translate(1224.55,300.00) rotate(-90) skewX(-15) scale(0.74,1)" font-size="32.6" x="20.73 52.16" y="0">D<tspan font-size="28.36">e</tspan></text>
<text class="t" transform="translate(1361.30,300.00) rotate(-90) skewX(-15) scale(0.74,1)" font-size="32.6" x="33.80" y="0">d</text>
<text class="t" transform="translate(1402.80,300.00) rotate(-90) skewX(-15) scale(0.74,1)" font-size="32.6" x="17.48 46.90" y="0">D<tspan font-size="28.36">m</tspan></text>
<text class="t" transform="translate(1442.80,300.00) rotate(-90) skewX(-15) scale(0.74,1)" font-size="32.6" x="25.73 54.57" y="0">Di</text>
<text class="t" transform="translate(0,101.30) skewX(-15) scale(0.74,1)" font-size="32.6" x="1729.61" y="0">F</text>
<text class="t" transform="translate(0,464.40) skewX(-15) scale(0.74,1)" font-size="32.6" x="1662.11 1683.27 1693.69 1721.86 1753.47 1775.55" y="0">7<tspan font-size="24.78">:</tspan>GG25</text>
</svg>
</body></html>
